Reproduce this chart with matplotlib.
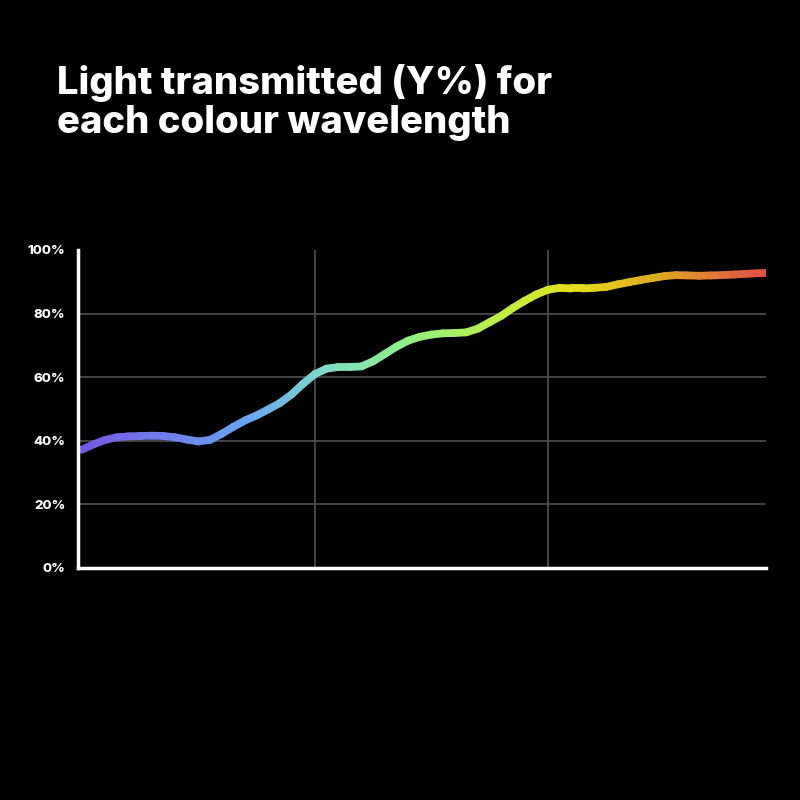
"""Light transmitted (Y%) per wavelength - dark spectrum chart."""
import numpy as np
import matplotlib; matplotlib.use('Agg'); import matplotlib.pyplot as plt
from matplotlib.collections import LineCollection
from matplotlib.colors import LinearSegmentedColormap, Normalize

BG = '#000000'; WHITE = '#ffffff'; GRID = '#4a4a4a'

# wavelength (nm) and transmission (%)
wavelength = [400, 405, 410, 415, 420, 425, 430, 435, 440, 445, 450, 455, 460, 465, 470,
              475, 480, 485, 490, 495, 500, 505, 510, 515, 520, 525, 530, 535, 540, 545,
              550, 555, 560, 565, 570, 575, 580, 585, 590, 595, 600, 605, 610, 615, 620,
              625, 630, 635, 640, 645, 650, 655, 660, 665, 670, 675, 680, 685, 690, 695]
transmit = [37.2, 38.9, 40.3, 41.1, 41.4, 41.5, 41.6, 41.5, 41.1, 40.4, 39.8, 40.3, 42.2, 44.4, 46.4,
            48.0, 49.9, 51.9, 54.6, 58.0, 61.0, 62.7, 63.2, 63.2, 63.4, 65.0, 67.3, 69.6, 71.5, 72.7,
            73.4, 73.8, 73.9, 74.1, 75.3, 77.3, 79.3, 81.8, 84.0, 86.0, 87.5, 88.1, 87.9, 87.9, 88.1,
            88.4, 89.2, 89.9, 90.6, 91.2, 91.8, 92.1, 92.0, 91.9, 92.0, 92.1, 92.3, 92.5, 92.7, 92.8]
y_ticks = [0, 20, 40, 60, 80, 100]
y_labels = ['0%', '20%', '40%', '60%', '80%', '100%']
x_grid = [500, 600]

spectrum = LinearSegmentedColormap.from_list('spec', [
    (0.00, '#7458e0'), (0.25, '#6aa6f2'), (0.36, '#80dcc6'), (0.48, '#90f082'),
    (0.64, '#c8ec3c'), (0.72, '#e6e01c'), (0.86, '#dea024'), (1.00, '#e04c48')])

plt.rcParams.update({'font.family': ['Inter', 'DejaVu Sans']})
fig = plt.figure(figsize=(8, 8), dpi=100, facecolor=BG)
ax = fig.add_axes([0.0975, 0.29, 0.86, 0.3975], facecolor=BG)

x = np.array(wavelength, float); y = np.array(transmit, float)
pts = np.column_stack([x, y]).reshape(-1, 1, 2)
segs = np.concatenate([pts[:-1], pts[1:]], axis=1)
lc = LineCollection(segs, cmap=spectrum, norm=Normalize(400, 695), linewidth=5.6, capstyle='round', joinstyle='round')
lc.set_array((x[:-1] + x[1:]) / 2)
ax.add_collection(lc)

ax.set_xlim(398.3, 693.6); ax.set_ylim(0, 100)
for yy in y_ticks[1:-1]: ax.axhline(yy, color=GRID, lw=1.3, zorder=0)
for xx in x_grid: ax.axvline(xx, color=GRID, lw=1.3, zorder=0)
ax.set_xticks([]); ax.set_yticks(y_ticks); ax.set_yticklabels(y_labels)
ax.tick_params(axis='y', length=0, pad=9, labelsize=9.5, labelcolor=WHITE)
for t in ax.get_yticklabels(): t.set_fontweight('heavy')
for s in ['top', 'right']: ax.spines[s].set_visible(False)
for s in ['left', 'bottom']: ax.spines[s].set_color(WHITE); ax.spines[s].set_linewidth(2.5)

fig.text(0.071, 0.92, 'Light transmitted (Y%) for\neach colour wavelength', color=WHITE,
         fontsize=27.5, fontweight='heavy', va='top', ha='left', linespacing=1.12)
fig.savefig('out.png', dpi=100, facecolor=BG)
